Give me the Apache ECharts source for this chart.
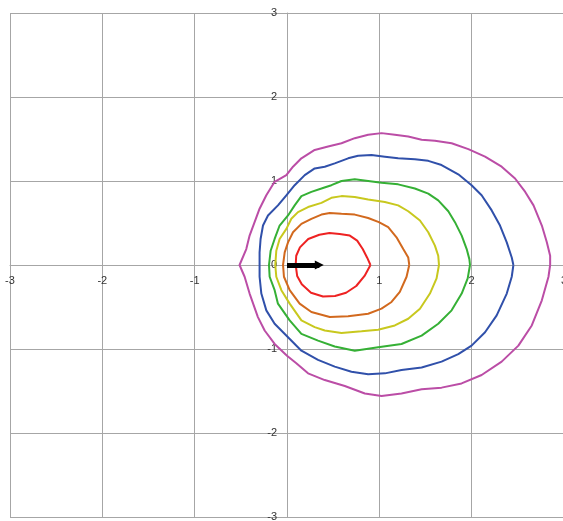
<!DOCTYPE html>
<html>
<head>
<meta charset="utf-8">
<script src="https://cdn.jsdelivr.net/npm/echarts@6/dist/echarts.min.js"></script>
<style>
  html, body { margin: 0; padding: 0; background: #ffffff; }
  #chart { width: 563px; height: 521px; }
</style>
</head>
<body>
<div id="chart"></div>
<script>
// Axis ticks (both axes run from -3 to 3 in steps of 1)
const axisMin = -3;
const axisMax = 3;
const axisStep = 1;

// Closed contour curves, [x, y] points traced around each loop
const contourRed = [
  [0.904, 0], [0.867, 0.09], [0.82, 0.19], [0.76, 0.29], [0.68, 0.35], [0.57, 0.37],
  [0.46, 0.38], [0.35, 0.36], [0.23, 0.31], [0.14, 0.21], [0.10, 0.11], [0.094, 0],
  [0.11, -0.13], [0.16, -0.23], [0.26, -0.33], [0.39, -0.375], [0.52, -0.37],
  [0.64, -0.33], [0.75, -0.25], [0.84, -0.13], [0.904, 0]
];
const contourOrange = [
  [1.324, 0], [1.313, 0.09], [1.259, 0.19], [1.186, 0.33], [1.096, 0.45], [0.995, 0.51],
  [0.879, 0.56], [0.734, 0.60], [0.59, 0.61], [0.463, 0.62], [0.373, 0.60], [0.264, 0.55],
  [0.156, 0.49], [0.065, 0.39], [0.011, 0.27], [-0.025, 0.15], [-0.043, 0],
  [-0.033, -0.14], [0.029, -0.30], [0.137, -0.46], [0.264, -0.56], [0.463, -0.62],
  [0.662, -0.61], [0.879, -0.58], [1.024, -0.52], [1.132, -0.44], [1.222, -0.32],
  [1.295, -0.14], [1.324, 0]
];
const contourYellow = [
  [1.646, 0], [1.638, 0.11], [1.602, 0.23], [1.53, 0.39], [1.44, 0.53], [1.313, 0.64],
  [1.204, 0.71], [1.06, 0.75], [0.879, 0.78], [0.734, 0.81], [0.59, 0.82], [0.481, 0.80],
  [0.373, 0.74], [0.228, 0.69], [0.119, 0.63], [0.047, 0.55], [-0.007, 0.43],
  [-0.08, 0.31], [-0.116, 0.17], [-0.127, 0],
  [-0.116, -0.14], [-0.061, -0.30], [0.029, -0.46], [0.156, -0.66], [0.30, -0.74],
  [0.409, -0.78], [0.59, -0.81], [0.807, -0.79], [0.987, -0.77], [1.168, -0.72],
  [1.313, -0.64], [1.44, -0.52], [1.548, -0.34], [1.62, -0.16], [1.646, 0]
];
const contourGreen = [
  [1.982, 0], [1.975, 0.07], [1.946, 0.19], [1.892, 0.35], [1.819, 0.51], [1.747, 0.64],
  [1.638, 0.77], [1.53, 0.85], [1.385, 0.91], [1.204, 0.96], [1.024, 0.98], [0.879, 1.00],
  [0.734, 1.02], [0.59, 1.00], [0.481, 0.95], [0.373, 0.91], [0.264, 0.87], [0.156, 0.82],
  [0.083, 0.71], [0.011, 0.59], [-0.08, 0.47], [-0.134, 0.31], [-0.177, 0.17], [-0.195, 0],
  [-0.188, -0.14], [-0.134, -0.30], [-0.098, -0.46], [0.029, -0.66], [0.156, -0.82],
  [0.336, -0.90], [0.517, -0.97], [0.734, -1.02], [0.987, -0.98], [1.24, -0.94],
  [1.458, -0.84], [1.638, -0.70], [1.783, -0.54], [1.892, -0.34], [1.957, -0.16], [1.982, 0]
];
const contourBlue = [
  [2.452, 0], [2.434, 0.09], [2.38, 0.27], [2.307, 0.47], [2.217, 0.65], [2.108, 0.83],
  [1.999, 0.95], [1.855, 1.08], [1.674, 1.19], [1.53, 1.24], [1.385, 1.26], [1.204, 1.27],
  [1.06, 1.29], [0.915, 1.31], [0.77, 1.30], [0.662, 1.27], [0.517, 1.21], [0.409, 1.17],
  [0.30, 1.15], [0.192, 1.07], [0.083, 0.95], [-0.007, 0.83], [-0.098, 0.71], [-0.206, 0.59],
  [-0.26, 0.47], [-0.286, 0.31], [-0.297, 0.15], [-0.297, 0],
  [-0.297, -0.14], [-0.278, -0.34], [-0.224, -0.54], [-0.134, -0.70], [0.011, -0.86],
  [0.156, -1.02], [0.336, -1.13], [0.517, -1.21], [0.698, -1.27], [0.879, -1.30],
  [1.06, -1.29], [1.24, -1.25], [1.458, -1.22], [1.674, -1.15], [1.855, -1.06],
  [1.999, -0.96], [2.145, -0.80], [2.271, -0.60], [2.38, -0.34], [2.434, -0.14], [2.452, 0]
];
const contourMagenta = [
  [2.85, 0], [2.85, 0.11], [2.814, 0.27], [2.76, 0.47], [2.67, 0.71], [2.58, 0.87],
  [2.47, 1.03], [2.325, 1.17], [2.145, 1.29], [1.964, 1.38], [1.783, 1.45], [1.602, 1.48],
  [1.458, 1.49], [1.313, 1.53], [1.168, 1.55], [1.024, 1.57], [0.879, 1.55], [0.734, 1.51],
  [0.59, 1.45], [0.445, 1.41], [0.30, 1.37], [0.156, 1.27], [0.065, 1.17], [-0.007, 1.07],
  [-0.134, 0.99], [-0.224, 0.83], [-0.297, 0.67], [-0.351, 0.51], [-0.405, 0.35],
  [-0.441, 0.19], [-0.514, 0],
  [-0.459, -0.14], [-0.405, -0.34], [-0.315, -0.62], [-0.242, -0.78], [-0.134, -0.94],
  [0, -1.08], [0.101, -1.17], [0.228, -1.29], [0.409, -1.37], [0.626, -1.44],
  [0.843, -1.53], [1.024, -1.56], [1.24, -1.53], [1.458, -1.48], [1.674, -1.46],
  [1.891, -1.41], [2.108, -1.31], [2.325, -1.15], [2.506, -0.96], [2.651, -0.72],
  [2.76, -0.42], [2.832, -0.14], [2.85, 0]
];

// Direction arrow from the origin
const arrowFrom = [0, 0];
const arrowTo = [0.35, 0];

const gridColor = '#a6a6a6';
const labelColor = '#333333';
const labelFont = 'Liberation Sans, Arial, sans-serif';

// Plot box in pixels; the axes cross in the middle of it
const plotLeft = 10, plotTop = 13, plotWidth = 554, plotHeight = 504;

const contours = [
  { data: contourRed, color: '#ee2222' },
  { data: contourOrange, color: '#d2691e' },
  { data: contourYellow, color: '#c8c81e' },
  { data: contourGreen, color: '#35b035' },
  { data: contourBlue, color: '#3050aa' },
  { data: contourMagenta, color: '#bb4da6' }
];

const chart = echarts.init(document.getElementById('chart'), null, { renderer: 'canvas' });

const series = contours.map(c => ({
  type: 'line',
  data: c.data,
  showSymbol: false,
  smooth: false,
  silent: true,
  clip: false,
  lineStyle: { color: c.color, width: 2 },
  itemStyle: { color: c.color },
  z: 3
}));

series.push({
  type: 'lines',
  coordinateSystem: 'cartesian2d',
  silent: true,
  symbol: ['none', 'triangle'],
  symbolSize: [13, 9],
  lineStyle: { color: '#000000', width: 5, opacity: 1 },
  data: [{ coords: [arrowFrom, arrowTo] }],
  z: 5
});

// Shift the bottom/left axes so they sit on the zero lines
const xZeroOffset = -plotHeight * (axisMax - 0) / (axisMax - axisMin);
const yZeroOffset = -plotWidth * (0 - axisMin) / (axisMax - axisMin);

chart.setOption({
  animation: false,
  backgroundColor: '#ffffff',
  grid: { left: plotLeft, top: plotTop, width: plotWidth, height: plotHeight, outerBoundsMode: 'none' },
  xAxis: {
    type: 'value', position: 'bottom', offset: xZeroOffset,
    min: axisMin, max: axisMax, interval: axisStep,
    axisLine: { onZero: false, lineStyle: { color: gridColor, width: 1 } },
    axisTick: { show: true, length: 4, lineStyle: { color: gridColor } },
    axisLabel: {
      color: labelColor, fontSize: 11, fontFamily: labelFont,
      margin: 10, showMinLabel: true, showMaxLabel: true,
      formatter: v => (v === 0 ? '' : String(v))
    },
    splitLine: { show: true, lineStyle: { color: gridColor, width: 1 } }
  },
  yAxis: {
    type: 'value', position: 'left', offset: yZeroOffset,
    min: axisMin, max: axisMax, interval: axisStep,
    axisLine: { onZero: false, lineStyle: { color: gridColor, width: 1 } },
    axisTick: { show: true, length: 4, lineStyle: { color: gridColor } },
    axisLabel: {
      color: labelColor, fontSize: 11, fontFamily: labelFont,
      margin: 10, showMinLabel: true, showMaxLabel: true
    },
    splitLine: { show: true, lineStyle: { color: gridColor, width: 1 } }
  },
  series: series
});
</script>
</body>
</html>
